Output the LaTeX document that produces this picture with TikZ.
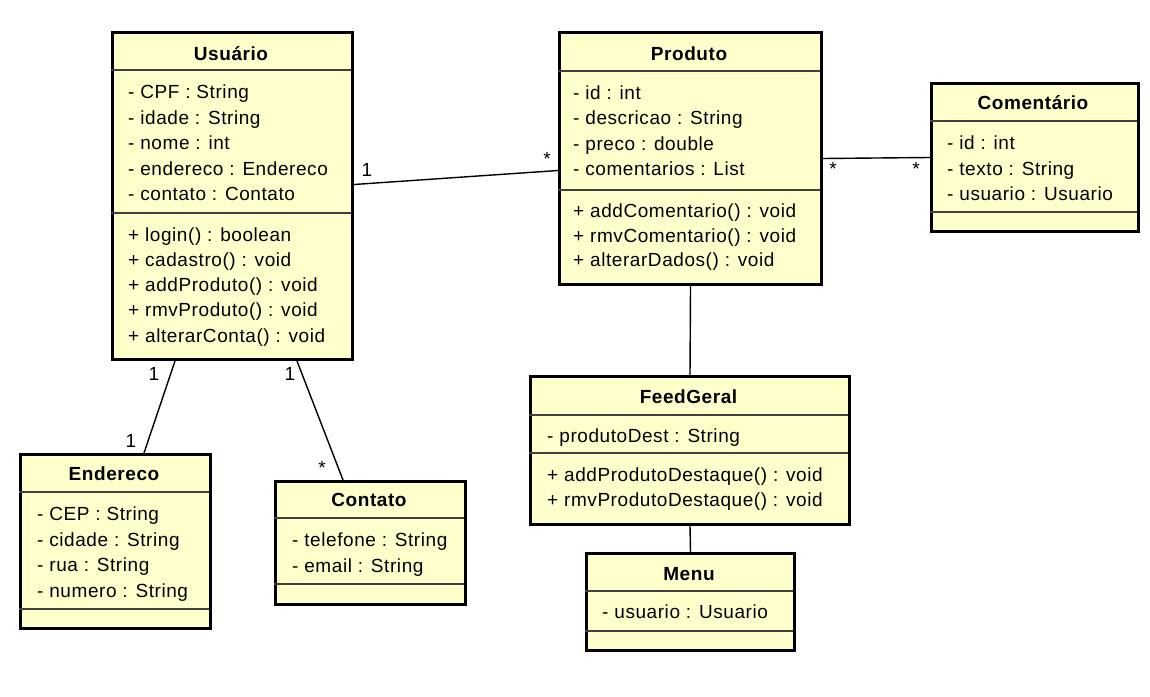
\documentclass[tikz,border=0pt]{standalone}
\usepackage{fontspec}
\setmainfont{Liberation Sans}[LetterSpace=3]
\definecolor{clsfill}{RGB}{255,255,204}
\begin{document}
\begin{tikzpicture}[x=1pt,y=-1pt,
  cls/.style={draw=black, line width=3pt, fill=clsfill, anchor=north west, inner sep=0pt},
  ttl/.style={font=\bfseries\fontsize{19}{21}\selectfont, anchor=base, inner sep=0pt},
  row/.style={font=\fontsize{19}{21}\selectfont, anchor=base west, inner sep=0pt},
  sep/.style={line width=1.3pt, draw=black!75},
  assoc/.style={line width=1.4pt, draw=black},
  mult/.style={font=\fontsize{19}{21}\selectfont, anchor=base, inner sep=0pt}]
\fill[white] (0,0) rectangle (1150,696);
\useasboundingbox (0,0) rectangle (1150,696);

% ---------- Usuario ----------
\node[cls, minimum width=240pt, minimum height=327pt] (usuario) at (111,31) {};
\draw[sep] (111,70) -- (351,70);
\draw[sep] (111,213) -- (351,213);
\node[ttl] (usuarioT) at (231,60) {Usuário};
\node[row] (u1) at (128,98) {- CPF : String};
\node[row] (u2) at (128,124) {- idade : String};
\node[row] (u3) at (128,149) {- nome : int};
\node[row] (u4) at (128,175) {- endereco : Endereco};
\node[row] (u5) at (128,200) {- contato : Contato};
\node[row] (u6) at (128,241) {+ login() : boolean};
\node[row] (u7) at (128,266) {+ cadastro() : void};
\node[row] (u8) at (128,291) {+ addProduto() : void};
\node[row] (u9) at (128,316) {+ rmvProduto() : void};
\node[row] (u10) at (128,342) {+ alterarConta() : void};

% ---------- Produto ----------
\node[cls, minimum width=262pt, minimum height=252pt] (produto) at (558,31) {};
\draw[sep] (558,71) -- (820,71);
\draw[sep] (558,190) -- (820,190);
\node[ttl] (produtoT) at (689,60) {Produto};
\node[row] (p1) at (573,99) {- id : int};
\node[row] (p2) at (573,124) {- descricao : String};
\node[row] (p3) at (573,150) {- preco : double};
\node[row] (p4) at (573,175) {- comentarios : List};
\node[row] (p5) at (573,217) {+ addComentario() : void};
\node[row] (p6) at (573,242) {+ rmvComentario() : void};
\node[row] (p7) at (573,266) {+ alterarDados() : void};

% ---------- Comentario ----------
\node[cls, minimum width=207pt, minimum height=148pt] (comentario) at (930,82) {};
\draw[sep] (930,121) -- (1137,121);
\draw[sep] (930,212) -- (1137,212);
\node[ttl] (comentarioT) at (1033,109) {Comentário};
\node[row] (c1) at (947,149) {- id : int};
\node[row] (c2) at (947,175) {- texto : String};
\node[row] (c3) at (947,200) {- usuario : Usuario};

% ---------- Endereco ----------
\node[cls, minimum width=190pt, minimum height=174pt] (endereco) at (19,453) {};
\draw[sep] (19,492) -- (209,492);
\draw[sep] (19,609) -- (209,609);
\node[ttl] (enderecoT) at (114,480) {Endereco};
\node[row] (e1) at (37,520) {- CEP : String};
\node[row] (e2) at (37,546) {- cidade : String};
\node[row] (e3) at (37,571) {- rua : String};
\node[row] (e4) at (37,597) {- numero : String};

% ---------- Contato ----------
\node[cls, minimum width=190pt, minimum height=123pt] (contato) at (274,480) {};
\draw[sep] (274,518) -- (464,518);
\draw[sep] (274,584) -- (464,584);
\node[ttl] (contatoT) at (369,506) {Contato};
\node[row] (k1) at (292,546) {- telefone : String};
\node[row] (k2) at (292,572) {- email : String};

% ---------- FeedGeral ----------
\node[cls, minimum width=319pt, minimum height=148pt] (feed) at (529,375) {};
\draw[sep] (529,415) -- (848,415);
\draw[sep] (529,453) -- (848,453);
\node[ttl] (feedT) at (688.5,403) {FeedGeral};
\node[row] (f1) at (547,442) {- produtoDest : String};
\node[row] (f2) at (547,481) {+ addProdutoDestaque() : void};
\node[row] (f3) at (547,506) {+ rmvProdutoDestaque() : void};

% ---------- Menu ----------
\node[cls, minimum width=208pt, minimum height=97pt] (menu) at (585,552) {};
\draw[sep] (585,591) -- (793,591);
\draw[sep] (585,631) -- (793,631);
\node[ttl] (menuT) at (689,580) {Menu};
\node[row] (m1) at (602,618) {- usuario : Usuario};

% ---------- connectors ----------
\coordinate (uP) at ([yshift=11.5pt]usuario.east);
\coordinate (pU) at ([yshift=-12pt]produto.west);
\draw[assoc] (uP) -- (pU);
\draw[assoc] (produto.east) -- (comentario.west);
\draw[assoc] (produto.south) -- (feed.north);
\draw[assoc] (feed.south) -- (menu.north);
\coordinate (uE) at ([xshift=64pt]usuario.south west);
\coordinate (eU) at ([xshift=125pt]endereco.north west);
\draw[assoc] (uE) -- (eU);
\coordinate (uC) at ([xshift=186pt]usuario.south west);
\coordinate (cU) at ([xshift=69pt]contato.north west);
\draw[assoc] (uC) -- (cU);

% ---------- multiplicities ----------
\node[mult] (m_up1) at (367,176) {1};
\node[mult] (m_up2) at (547,165) {*};
\node[mult] (m_pc1) at (833,175) {*};
\node[mult] (m_pc2) at (916,175) {*};
\node[mult] (m_ue1) at (154,380) {1};
\node[mult] (m_ue2) at (131,447) {1};
\node[mult] (m_uc1) at (290,380) {1};
\node[mult] (m_uc2) at (322,474) {*};
\end{tikzpicture}
\end{document}
